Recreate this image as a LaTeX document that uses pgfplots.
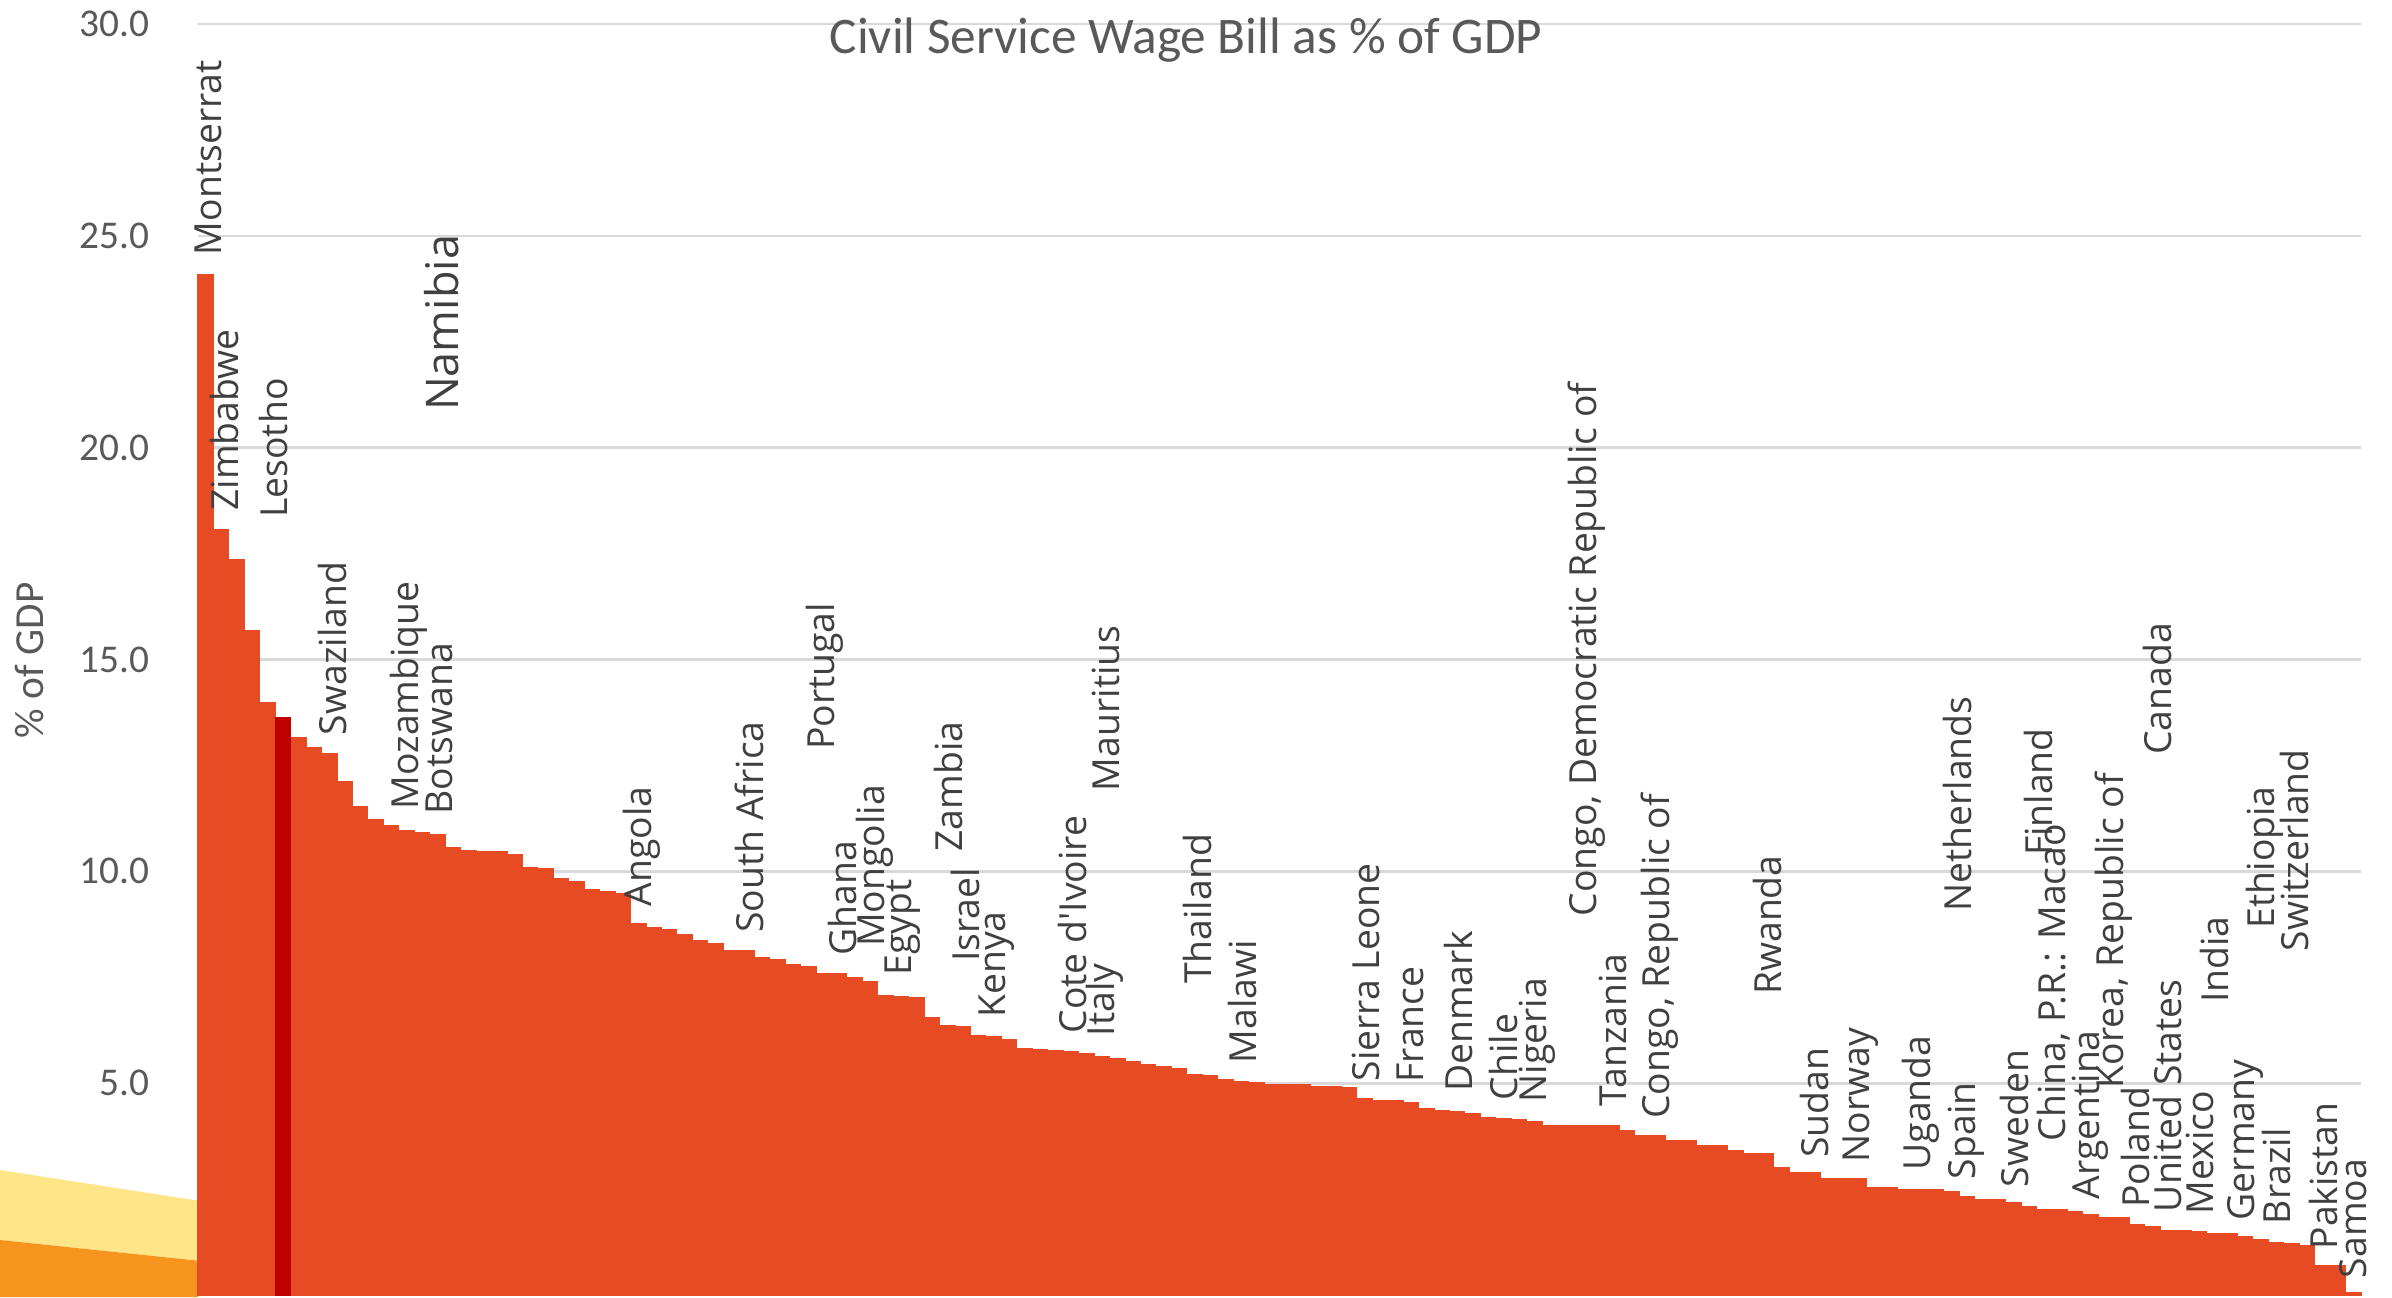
\documentclass[border=0pt]{standalone}
\usepackage{pgfplots}
\pgfplotsset{compat=1.18}
\usepackage{pgfplotstable}
\usepackage{fontspec}
\setmainfont{Carlito}
\newfontfamily\labelfont{Open Sans}
\definecolor{barc}{HTML}{E64B24}
\definecolor{namc}{HTML}{C00000}
\definecolor{tickc}{HTML}{595959}
\definecolor{labc}{HTML}{404040}
\definecolor{gridc}{HTML}{D9D9D9}
\definecolor{decoa}{HTML}{FEE587}
\definecolor{decob}{HTML}{F7941E}

\pgfplotstableread{
x y
1 24.08
2 18.07
3 17.36
4 15.68
5 13.99
6 13.62
7 13.16
8 12.93
9 12.79
10 12.11
11 11.53
12 11.23
13 11.09
14 10.97
15 10.92
16 10.88
17 10.57
18 10.49
19 10.47
20 10.46
21 10.40
22 10.10
23 10.06
24 9.83
25 9.75
26 9.57
27 9.52
28 9.47
29 8.77
30 8.67
31 8.63
32 8.50
33 8.36
34 8.30
35 8.14
36 8.14
37 7.97
38 7.93
39 7.80
40 7.76
41 7.59
42 7.59
43 7.50
44 7.40
45 7.06
46 7.04
47 7.03
48 6.55
49 6.37
50 6.33
51 6.13
52 6.09
53 6.04
54 5.83
55 5.80
56 5.77
57 5.74
58 5.69
59 5.62
60 5.58
61 5.51
62 5.44
63 5.39
64 5.34
65 5.21
66 5.18
67 5.08
68 5.05
69 5.01
70 4.98
71 4.97
72 4.96
73 4.93
74 4.91
75 4.89
76 4.63
77 4.60
78 4.58
79 4.54
80 4.41
81 4.36
82 4.33
83 4.29
84 4.20
85 4.17
86 4.14
87 4.09
88 4.01
89 3.99
90 3.99
91 3.99
92 3.99
93 3.88
94 3.77
95 3.77
96 3.65
97 3.65
98 3.52
99 3.52
100 3.41
101 3.35
102 3.35
103 3.01
104 2.88
105 2.88
106 2.74
107 2.74
108 2.74
109 2.54
110 2.54
111 2.50
112 2.50
113 2.50
114 2.44
115 2.32
116 2.25
117 2.25
118 2.18
119 2.08
120 2.03
121 2.03
122 1.97
123 1.89
124 1.82
125 1.82
126 1.66
127 1.62
128 1.53
129 1.53
130 1.51
131 1.46
132 1.46
133 1.38
134 1.30
135 1.24
136 1.21
137 1.17
138 0.69
139 0.69
140 0.05
}\wagedata

\begin{document}
\begin{tikzpicture}[
  lbl/.style={rotate=90, anchor=west, inner sep=0pt, text=labc,
    font=\labelfont\fontsize{11.2}{13}\selectfont}]
\useasboundingbox (0,0) rectangle (717.6pt,389.1pt);
\fill[decoa] (0,17.1pt) -- (0,38.1pt) -- (59.4pt,28.9pt) -- (59.4pt,10.9pt) -- cycle;
\fill[decob] (0,0) -- (0,17.1pt) -- (59.4pt,10.9pt) -- (59.4pt,0) -- cycle;
\begin{axis}[
  at={(59.4pt,0.6pt)}, anchor=south west,
  width=648.9pt, height=381.3pt, scale only axis,
  xmin=0.5, xmax=140.5, ymin=0, ymax=30,
  axis line style={draw=none},
  xtick=\empty,
  ytick={5,10,15,20,25,30},
  major tick length=0pt,
  ymajorgrids, grid style={gridc, line width=0.8pt},
  yticklabel style={font=\fontsize{11.8}{14}\selectfont, text=tickc, xshift=-11pt,
    /pgf/number format/fixed, /pgf/number format/fixed zerofill,
    /pgf/number format/precision=1},
  /pgf/number format/assume math mode=true,
  clip=false,
]
\addplot[ybar, bar width=1, bar shift=0pt, fill=barc, draw=barc, line width=0.3pt]
  table[x=x, y=y] {\wagedata};
\addplot[ybar, bar width=1, bar shift=0pt, fill=namc, draw=namc, line width=0.3pt]
  coordinates {(6,13.62)};

\node[lbl] at (axis cs:1.2,24.53) {Montserrat};
\node[lbl] at (axis cs:2.2,18.5) {Zimbabwe};
\node[lbl] at (axis cs:5.4,18.33) {Lesotho};
\node[lbl, font=\labelfont\fontsize{13.5}{16}\selectfont] at (axis cs:16.3,20.85) {Namibia};
\node[lbl] at (axis cs:9.2,13.2) {Swaziland};
\node[lbl] at (axis cs:14.15,11.45) {Mozambique};
\node[lbl] at (axis cs:16.15,11.33) {Botswana};
\node[lbl] at (axis cs:29.2,9.16) {Angola};
\node[lbl] at (axis cs:36.2,8.54) {South Africa};
\node[lbl] at (axis cs:41.1,12.85) {Portugal};
\node[lbl] at (axis cs:42.2,8.0) {Ghana};
\node[lbl] at (axis cs:44.3,8.2) {Mongolia};
\node[lbl] at (axis cs:46.1,7.52) {Egypt};
\node[lbl] at (axis cs:49.1,10.45) {Zambia};
\node[lbl] at (axis cs:50.2,7.85) {Israel};
\node[lbl] at (axis cs:52.2,6.53) {Kenya};
\node[lbl] at (axis cs:57.1,6.16) {Cote d\textquotesingle Ivoire};
\node[lbl] at (axis cs:59.2,6.09) {Italy};
\node[lbl] at (axis cs:59.3,11.88) {Mauritius};
\node[lbl] at (axis cs:65.2,7.33) {Thailand};
\node[lbl] at (axis cs:68.1,5.46) {Malawi};
\node[lbl] at (axis cs:76.1,5.03) {Sierra Leone};
\node[lbl] at (axis cs:79.0,5.0) {France};
\node[lbl] at (axis cs:82.1,4.78) {Denmark};
\node[lbl] at (axis cs:85.0,4.58) {Chile};
\node[lbl] at (axis cs:87.2,4.53) {Nigeria};
\node[lbl] at (axis cs:90.4,8.92) {Congo, Democratic Republic of};
\node[lbl] at (axis cs:92.1,4.44) {Tanzania};
\node[lbl] at (axis cs:95.1,4.14) {Congo, Republic of};
\node[lbl] at (axis cs:102.1,7.07) {Rwanda};
\node[lbl] at (axis cs:105.1,3.22) {Sudan};
\node[lbl] at (axis cs:108.1,3.12) {Norway};
\node[lbl] at (axis cs:112.0,2.92) {Uganda};
\node[lbl] at (axis cs:114.4,9.03) {Netherlands};
\node[lbl] at (axis cs:114.95,2.72) {Spain};
\node[lbl] at (axis cs:118.05,2.53) {Sweden};
\node[lbl] at (axis cs:119.6,10.35) {Finland};
\node[lbl] at (axis cs:120.6,3.61) {China, P.R.: Macao};
\node[lbl] at (axis cs:123.0,2.24) {Argentina};
\node[lbl] at (axis cs:124.5,4.87) {Korea, Republic of};
\node[lbl] at (axis cs:125.9,2.04) {Poland};
\node[lbl] at (axis cs:127.3,12.74) {Canada};
\node[lbl] at (axis cs:128.0,1.94) {United States};
\node[lbl] at (axis cs:130.05,1.89) {Mexico};
\node[lbl] at (axis cs:131.0,6.88) {India};
\node[lbl] at (axis cs:133.0,1.75) {Germany};
\node[lbl] at (axis cs:134.3,8.64) {Ethiopia};
\node[lbl] at (axis cs:135.0,1.66) {Brazil};
\node[lbl] at (axis cs:136.2,8.10) {Switzerland};
\node[lbl] at (axis cs:138.1,1.06) {Pakistan};
\node[lbl] at (axis cs:140.0,0.38) {Samoa};
\end{axis}
\node[rotate=90, text=tickc, font=\fontsize{12.4}{15}\selectfont] at (9pt,191pt) {\% of GDP};
\node[anchor=base, text=tickc, font=\fontsize{15.4}{18}\selectfont] at (355.8pt,372.9pt) {Civil Service Wage Bill as \% of GDP};
\end{tikzpicture}
\end{document}
